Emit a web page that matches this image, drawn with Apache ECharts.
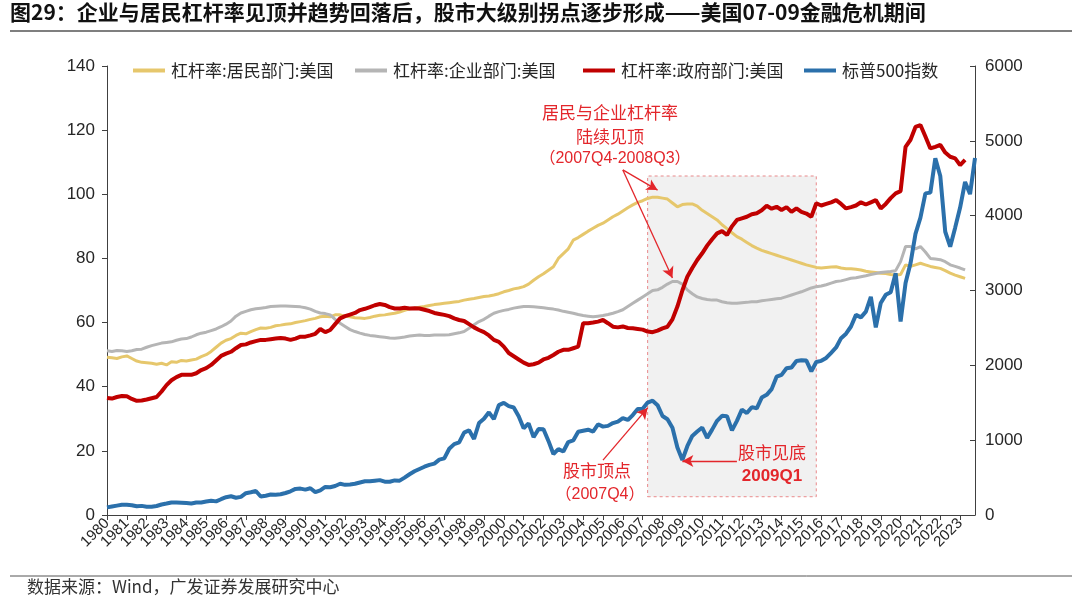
<!DOCTYPE html>
<html><head><meta charset="utf-8">
<script src="https://cdn.jsdelivr.net/npm/echarts@6/dist/echarts.min.js"></script>
<style>html,body{margin:0;padding:0;background:#fff}#c{width:1080px;height:607px}</style>
</head><body><div id="c"></div>
<script>
const years = [];
for (let y = 1980; y <= 2023; y++) years.push(String(y));
const quarters = years.flatMap(y => [y + 'Q1', y + 'Q2', y + 'Q3', y + 'Q4']);

const seriesNames = ['杠杆率:居民部门:美国', '杠杆率:企业部门:美国', '杠杆率:政府部门:美国', '标普500指数'];

// 1980Q1 - 2023Q2
const household = [
49.2,49.0,48.8,49.3, 49.6,48.8,48.0,47.6, 47.5,47.3,47.0,47.3, 46.8,47.8,47.6,48.2,
48.0,48.3,48.6,49.4, 50.0,51.0,52.3,53.6, 54.5,55.0,56.0,56.7, 56.5,57.2,57.8,58.3,
58.2,58.5,59.0,59.2, 59.5,59.6,60.0,60.3, 60.6,61.0,61.3,61.8, 62.0,61.8,62.4,62.4,
62.0,61.8,61.5,61.4, 61.3,61.6,62.0,62.3, 62.4,62.7,62.9,63.3, 63.8,64.3,64.5,64.8,
65.0,65.3,65.6,65.8, 66.0,66.2,66.4,66.6, 67.0,67.3,67.5,67.8, 68.1,68.3,68.6,69.0,
69.6,70.0,70.5,70.8, 71.2,72.0,73.2,74.3, 75.2,76.3,77.4,80.0, 81.5,83.0,85.7,86.5,
87.5,88.5,89.4,90.3, 91.0,92.0,93.0,93.8, 94.8,95.8,96.7,97.5, 98.0,98.7,99.1,99.1,
98.8,98.5,97.3,96.1, 96.8,97.0,97.0,96.3, 95.0,94.0,93.0,92.0, 90.5,89.3,88.0,86.8,
86.0,85.0,84.0,83.2, 82.5,82.0,81.5,81.0, 80.5,80.0,79.5,79.0, 78.5,78.0,77.6,77.2,
77.0,77.2,77.3,77.4, 77.0,76.8,76.8,76.6, 76.4,76.0,75.8,75.6, 75.4,75.3,75.0,74.8,
75.0,78.0,77.5,78.0, 78.5,78.0,77.5,77.2, 76.9,76.2,75.4,74.8, 74.3,73.8
];
const corporate = [
51.2,51.0,51.3,51.2, 51.0,51.2,51.6,51.7, 52.3,52.8,53.2,53.6, 53.8,54.0,54.5,54.9,
55.0,55.5,56.2,56.7, 57.0,57.5,58.0,58.7, 59.5,60.5,62.0,63.0, 63.5,64.0,64.3,64.5,
64.7,65.0,65.1,65.2, 65.2,65.1,65.0,64.9, 64.6,64.2,63.5,63.0, 62.8,62.4,61.0,59.8,
58.8,57.8,57.2,56.7, 56.3,56.0,55.8,55.6, 55.4,55.2,55.1,55.3, 55.5,55.8,56.0,56.1,
56.0,56.0,56.1,56.1, 56.1,56.2,56.5,56.8, 57.2,58.2,59.3,60.3, 61.0,62.0,62.9,63.4,
63.8,64.1,64.5,64.8, 65.0,65.0,64.9,64.8, 64.6,64.4,64.2,63.9, 63.5,63.2,62.9,62.5,
62.2,62.0,61.8,62.0, 62.2,62.5,62.9,63.4, 64.0,65.0,66.0,67.0, 68.0,69.0,70.0,70.2,
71.0,72.0,72.8,72.8, 72.0,70.2,69.0,68.0, 67.5,67.2,67.0,67.0, 66.5,66.2,66.0,66.0,
66.2,66.3,66.5,66.5, 66.8,67.0,67.2,67.4, 67.6,68.1,68.6,69.1, 69.6,70.2,70.8,71.2,
71.4,71.8,72.3,72.8, 73.0,73.4,73.8,74.0, 74.3,74.6,75.0,75.3, 75.6,75.8,75.9,76.2,
79.0,83.7,83.7,83.0, 83.7,82.0,80.0,79.8, 79.6,79.0,78.0,77.5, 77.0,76.4
];
const government = [
36.5,36.3,36.8,37.1, 37.0,36.2,35.6,35.7, 36.0,36.4,36.8,38.5, 40.5,42.0,43.0,43.7,
43.7,43.7,44.2,45.2, 45.8,46.8,48.2,49.6, 50.3,50.9,52.0,53.0, 53.2,53.8,54.2,54.6,
54.6,54.8,55.0,55.2, 55.0,54.6,55.0,55.6, 55.6,56.0,56.5,58.0, 57.0,57.7,59.5,61.3,
62.0,62.5,63.0,63.9, 64.3,64.8,65.4,65.8, 65.5,64.8,64.4,64.4, 64.6,64.4,64.5,64.4,
64.0,63.6,63.0,62.7, 62.4,62.0,61.3,60.8, 60.5,59.5,58.5,57.7, 57.0,56.0,54.6,54.0,
52.5,50.5,49.5,48.5, 47.5,46.8,47.0,47.5, 48.5,49.0,49.9,50.9, 51.5,51.5,52.0,52.5,
59.8,59.8,60.0,60.3, 60.8,59.8,58.7,58.5, 58.8,58.3,58.2,58.0, 57.8,57.2,57.0,57.5,
58.2,58.7,61.0,65.0, 70.0,74.3,77.0,79.5, 81.6,84.0,86.0,87.8, 88.5,87.3,90.0,92.0,
92.5,93.0,93.8,94.1, 95.0,96.4,95.5,96.1, 95.1,96.0,94.5,95.6, 94.5,94.0,93.0,97.2,
96.5,97.0,97.5,98.2, 97.0,95.6,96.0,96.5, 97.5,96.8,97.5,98.2, 95.6,97.0,98.8,100.3,
101.0,114.8,117.0,121.0, 121.6,118.0,114.3,114.8, 115.4,113.0,111.7,111.2, 109.1,110.7
];
// 1980Q1 - 2023Q4
const sp500 = [
102,114,125,136, 136,131,116,122, 111,110,120,140, 153,168,166,164,
159,153,166,167, 180,191,182,211, 238,250,231,242, 291,304,321,247,
258,273,271,277, 294,317,349,353, 339,358,306,330, 375,371,387,417,
403,408,417,435, 451,450,458,466, 445,444,462,459, 500,544,584,615,
645,670,687,740, 757,885,947,970, 1101,1133,1017,1229, 1286,1372,1282,1469,
1498,1454,1436,1320, 1160,1224,1040,1148, 1147,990,815,880, 848,975,996,1112,
1126,1140,1114,1212, 1181,1191,1228,1248, 1295,1270,1335,1418, 1421,1503,1527,1468,
1323,1280,1166,903, 735,919,1057,1115, 1169,1031,1141,1258, 1326,1321,1131,1258,
1408,1362,1441,1426, 1569,1606,1682,1848, 1872,1960,1972,2059, 2068,2063,1920,2044,
2060,2099,2168,2239, 2363,2423,2519,2674, 2641,2718,2914,2507, 2834,2942,2977,3231,
2585,3100,3363,3756, 3973,4298,4308,4766, 4530,3785,3586,3840, 4109,4450,4288,4770
];

const leftTicks = {min: 0, max: 140, interval: 20};
const rightTicks = {min: 0, max: 6000, interval: 1000};

const colors = ['#e6c76c', '#b5b5b5', '#c00000', '#2b70ab'];
const widths = [3, 3, 4, 4];
const annoRed = '#e3262b';
const axisColor = '#404040';
const labelFont = {fontFamily: 'Liberation Sans, Arial, sans-serif', color: '#262626'};

const chart = echarts.init(document.getElementById('c'), null, {renderer: 'canvas'});

const yearTick = (i) => i % 4 === 0;

const lineSeries = [household, corporate, government, sp500].map((d, k) => ({
  name: seriesNames[k],
  type: 'line',
  yAxisIndex: k === 3 ? 1 : 0,
  data: d,
  symbol: 'none',
  smooth: false,
  z: 3 + k,
  lineStyle: {color: colors[k], width: widths[k]},
  itemStyle: {color: colors[k]},
  emphasis: {disabled: true}
}));

const arrowStyle = {color: annoRed, width: 1.3, type: 'solid'};
const annoSeries = {
  name: 'anno',
  type: 'line',
  yAxisIndex: 0,
  data: [],
  z: 1,
  silent: true,
  markArea: {
    silent: true,
    itemStyle: {color: 'rgba(236,236,236,0.75)', borderColor: '#e9898b', borderWidth: 1, borderType: [3, 3]},
    data: [[{xAxis: '2007Q2', yAxis: 5.7}, {xAxis: '2015Q4', yAxis: 105.7}]]
  },
  markLine: {
    silent: true,
    symbol: ['none', 'arrow'],
    symbolSize: [9, 11],
    label: {show: false},
    lineStyle: arrowStyle,
    z: 20,
    data: [
      [{coord: [104.0, 107.6]}, {coord: [110.5, 101.3]}],
      [{coord: [104.0, 107.6]}, {coord: [113.5, 73.9]}],
      [{coord: [100.4, 17.1]}, {coord: [109.1, 33.4]}],
      [{coord: [126.6, 16.8]}, {coord: [116.1, 16.8]}]
    ]
  }
};

const legendPos = [133, 355, 583, 804];
const legends = seriesNames.map((n, k) => ({
  data: [n], left: legendPos[k], top: 62, padding: 0,
  icon: 'rect', itemWidth: 32, itemHeight: 4, itemGap: 0,
  textStyle: {fontSize: 17, color: '#262626', fontFamily: 'Noto Sans CJK SC', padding: [0, 0, 0, 1]},
  selectedMode: false
}));

const option = {
  animation: false,
  backgroundColor: '#fff',
  legend: legends,
  grid: {left: 107, right: 105, top: 66, bottom: 92, containLabel: false},
  xAxis: {
    type: 'category',
    data: quarters,
    boundaryGap: false,
    axisLine: {lineStyle: {color: axisColor, width: 1}},
    axisTick: {interval: (i) => yearTick(i), length: 5, lineStyle: {color: axisColor}},
    axisLabel: Object.assign({
      interval: 0, rotate: 45, fontSize: 15, margin: 6, hideOverlap: false,
      formatter: (v, i) => (yearTick(i) ? v.slice(0, 4) : '')
    }, labelFont),
    splitLine: {show: false}
  },
  yAxis: [
    Object.assign({type: 'value', position: 'left',
      axisLine: {show: true, lineStyle: {color: axisColor}},
      axisTick: {show: true, length: 5, lineStyle: {color: axisColor}},
      axisLabel: Object.assign({fontSize: 17, margin: 12, formatter: (v) => String(v)}, labelFont),
      splitLine: {show: false}}, leftTicks),
    Object.assign({type: 'value', position: 'right',
      axisLine: {show: true, lineStyle: {color: axisColor}},
      axisTick: {show: true, inside: true, length: 5, lineStyle: {color: axisColor}},
      axisLabel: Object.assign({fontSize: 17, margin: 10, formatter: (v) => String(v)}, labelFont),
      splitLine: {show: false}}, rightTicks)
  ],
  series: [annoSeries].concat(lineSeries),
  graphic: [
    {type: 'text', left: 10, top: 2, style: {text: '图29：企业与居民杠杆率见顶并趋势回落后，股市大级别拐点逐步形成——美国07-09金融危机期间', font: 'bold 21px "Noto Sans CJK SC"', fill: '#111'}},
    {type: 'line', shape: {x1: 10, y1: 31, x2: 1072, y2: 31}, style: {stroke: '#7f7f7f', lineWidth: 2}},
    {type: 'line', shape: {x1: 10, y1: 576, x2: 1072, y2: 576}, style: {stroke: '#555', lineWidth: 1}},
    {type: 'text', left: 27, top: 578, style: {text: '数据来源：Wind，广发证券发展研究中心', font: '17px "Noto Sans CJK SC"', fill: '#333'}},
    {type: 'text', x: 610, y: 113, style: {text: '居民与企业杠杆率', font: '17px "Noto Sans CJK SC"', fill: annoRed, align: 'center', verticalAlign: 'middle'}, z: 100},
    {type: 'text', x: 610, y: 137, style: {text: '陆续见顶', font: '17px "Noto Sans CJK SC"', fill: annoRed, align: 'center', verticalAlign: 'middle'}, z: 100},
    {type: 'text', x: 615, y: 159, style: {text: '（2007Q4-2008Q3）', font: '16px "Liberation Sans", "Noto Sans CJK SC"', fill: annoRed, align: 'center', verticalAlign: 'middle'}, z: 100},
    {type: 'text', x: 597, y: 471, style: {text: '股市顶点', font: '17px "Noto Sans CJK SC"', fill: annoRed, align: 'center', verticalAlign: 'middle'}, z: 100},
    {type: 'text', x: 600, y: 495, style: {text: '（2007Q4）', font: '16px "Liberation Sans", "Noto Sans CJK SC"', fill: annoRed, align: 'center', verticalAlign: 'middle'}, z: 100},
    {type: 'text', x: 772, y: 453, style: {text: '股市见底', font: '17px "Noto Sans CJK SC"', fill: annoRed, align: 'center', verticalAlign: 'middle'}, z: 100},
    {type: 'text', x: 772, y: 476, style: {text: '2009Q1', font: 'bold 17px "Liberation Sans", Arial', fill: annoRed, align: 'center', verticalAlign: 'middle'}, z: 100}
  ]
};
chart.setOption(option);
</script></body></html>
